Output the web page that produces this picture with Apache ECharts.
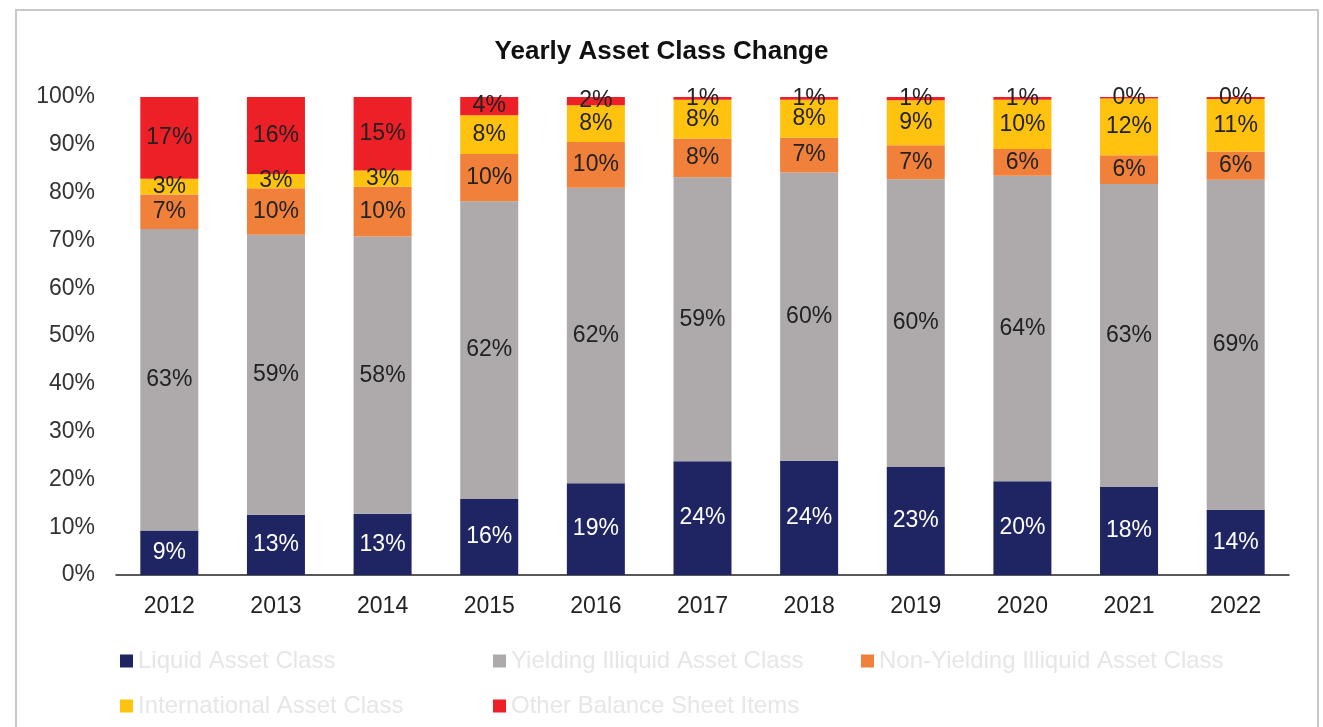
<!DOCTYPE html>
<html>
<head>
<meta charset="utf-8">
<title>Yearly Asset Class Change</title>
<script src="https://cdn.jsdelivr.net/npm/echarts@6/dist/echarts.min.js"></script>
<style>
html, body { margin: 0; padding: 0; background: #fff; }
#chartmain { width: 1323px; height: 727px; }
</style>
</head>
<body>
<div id="chartmain"></div>
<script>
// data (percent of total)
var years = ['2012', '2013', '2014', '2015', '2016', '2017', '2018', '2019', '2020', '2021', '2022'];
var liquid = [9.3, 12.6, 12.8, 15.9, 19.2, 23.8, 23.9, 22.6, 19.6, 18.4, 13.6];
var yielding = [63.1, 58.6, 58.0, 62.3, 61.8, 59.4, 60.3, 60.2, 63.9, 63.4, 69.1];
var nonYielding = [7.2, 9.7, 10.4, 9.9, 9.6, 8.1, 7.3, 7.1, 5.6, 6.0, 5.9];
var international = [3.3, 3.0, 3.4, 8.1, 7.7, 8.1, 7.9, 9.4, 10.3, 11.9, 11.0];
var other = [17.1, 16.1, 15.4, 3.8, 1.7, 0.6, 0.6, 0.7, 0.6, 0.3, 0.4];
var yTicks = [0, 10, 20, 30, 40, 50, 60, 70, 80, 90, 100];

var seriesNames = ['Liquid Asset Class', 'Yielding Illiquid Asset Class', 'Non-Yielding Illiquid Asset Class',
    'International Asset Class', 'Other Balance Sheet Items'];
var seriesData = [liquid, yielding, nonYielding, international, other];
var colors = ['#1f2562', '#aeaaab', '#f0803a', '#ffc20e', '#ed1f27'];

var font = 'Liberation Sans, Arial, sans-serif';

var series = [];
for (var i = 0; i < seriesNames.length; i++) {
    series.push({
        name: seriesNames[i],
        type: 'bar',
        stack: 'total',
        barWidth: 58,
        data: seriesData[i],
        itemStyle: { color: colors[i] },
        label: {
            show: true,
            position: 'inside',
            fontFamily: font,
            fontSize: 23,
            color: i === 0 ? '#ffffff' : '#222222',
            formatter: function(p) { return Math.round(p.value) + '%'; }
        }
    });
}

// legend laid out as two rows of aligned columns, like the original
var legendPos = [[115, 644], [488, 644], [856, 644], [115, 689], [488, 689]];
var legends = [];
for (var j = 0; j < seriesNames.length; j++) {
    legends.push({
        data: [seriesNames[j]],
        left: legendPos[j][0],
        top: legendPos[j][1],
        icon: 'rect',
        itemWidth: 13,
        itemHeight: 13,
        selectedMode: false,
        textStyle: { fontFamily: font, fontSize: 24, color: '#e6e6e6' }
    });
}

var option = {
    animation: false,
    backgroundColor: '#ffffff',
    title: {
        text: 'Yearly Asset Class Change',
        left: 'center',
        top: 34,
        textStyle: { fontFamily: font, fontSize: 26, fontWeight: 'bold', color: '#111' }
    },
    legend: legends,
    grid: { left: 116, right: 34, top: 97, bottom: 152, containLabel: false },
    xAxis: {
        type: 'category',
        data: years,
        axisLine: { lineStyle: { color: '#222', width: 1.5 } },
        axisTick: { show: false },
        axisLabel: { fontFamily: font, fontSize: 23, color: '#222', margin: 20 }
    },
    yAxis: {
        type: 'value',
        min: yTicks[0],
        max: yTicks[yTicks.length - 1],
        interval: yTicks[1] - yTicks[0],
        axisLine: { show: false },
        axisTick: { show: false },
        splitLine: { show: false },
        axisLabel: { fontFamily: font, fontSize: 23, color: '#333', margin: 21, padding: [5, 0, 0, 0], formatter: '{value}%' }
    },
    graphic: [{
        type: 'rect',
        shape: { x: 16, y: 10, width: 1302, height: 760 },
        style: { fill: 'none', stroke: '#c8c8c8', lineWidth: 2 },
        silent: true
    }],
    series: series
};

var myChart = echarts.init(document.getElementById('chartmain'));
myChart.setOption(option);
</script>
</body>
</html>
